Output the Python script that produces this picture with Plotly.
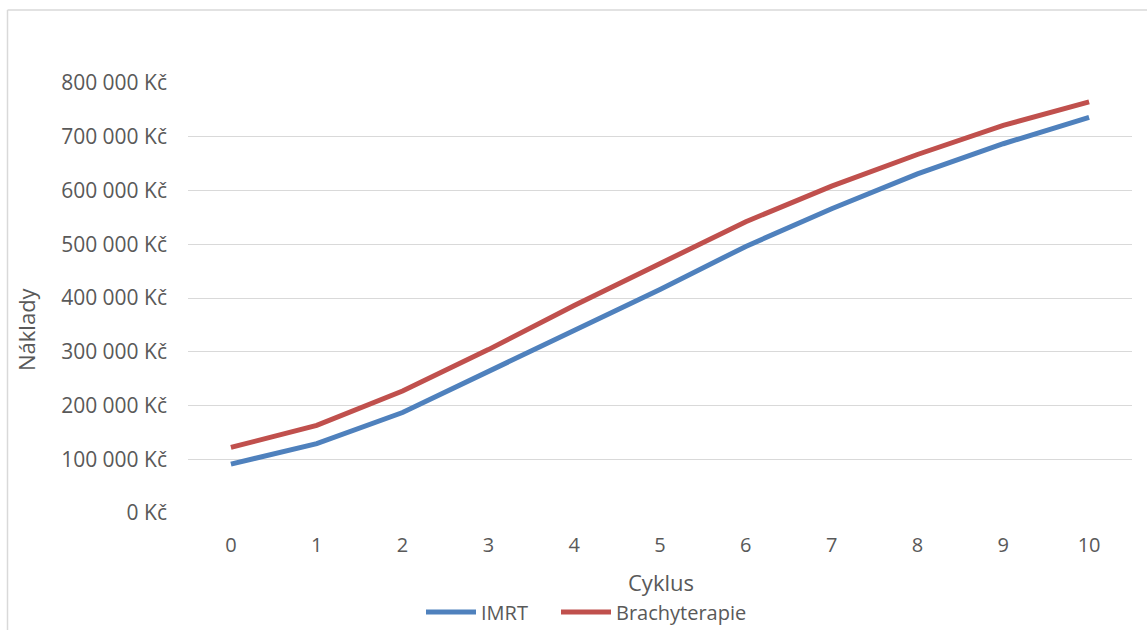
import plotly.graph_objects as go

# Cost per cycle for the two treatment options
cycles = [0, 1, 2, 3, 4, 5, 6, 7, 8, 9, 10]
imrt = [91000, 129000, 187000, 264000, 339000, 416000, 496000, 566000, 631000, 687000, 736000]
brachy = [122000, 163000, 227000, 304000, 386000, 464000, 542000, 608000, 667000, 721000, 765000]

y_ticks = [0, 100000, 200000, 300000, 400000, 500000, 600000, 700000, 800000]
y_tick_labels = ["0 Kč", "100 000 Kč", "200 000 Kč", "300 000 Kč", "400 000 Kč",
                 "500 000 Kč", "600 000 Kč", "700 000 Kč", "800 000 Kč"]

W, H = 1147, 630
L, R, T, B = 188, 15, 83, 117
FONT = "Open Sans"
TXT = "#595959"

fig = go.Figure()
fig.add_trace(go.Scatter(x=cycles, y=imrt, mode="lines", name="IMRT",
                         line=dict(color="#4F81BD", width=5), legend="legend"))
fig.add_trace(go.Scatter(x=cycles, y=brachy, mode="lines", name="Brachyterapie",
                         line=dict(color="#C0504D", width=5), legend="legend2"))

pw = W - L - R
ph = H - T - B


def px_x(x):
    return (x - L) / pw


def px_y(y):
    return (H - B - y) / ph


legend_common = dict(orientation="h", xanchor="left", y=px_y(612), yanchor="middle",
                     font=dict(size=20, color=TXT), itemwidth=50,
                     bgcolor="rgba(0,0,0,0)")

fig.update_layout(
    width=W, height=H,
    margin=dict(l=L, r=R, t=T, b=B, autoexpand=False),
    paper_bgcolor="white", plot_bgcolor="white",
    font=dict(family=FONT, color=TXT, size=20),
    showlegend=True,
    legend=dict(x=px_x(421), **legend_common),
    legend2=dict(x=px_x(556), **legend_common),
    xaxis=dict(
        type="linear", range=[-0.5, 10.5],
        tickvals=cycles, ticktext=[str(c) for c in cycles],
        showgrid=False, zeroline=False, showline=False,
        ticks="", ticklabelstandoff=18,
        tickfont=dict(size=20, color=TXT),
    ),
    yaxis=dict(
        range=[0, 800000],
        tickvals=y_ticks, ticktext=y_tick_labels,
        showgrid=True, gridcolor="#D9D9D9", gridwidth=1.3,
        zeroline=False, showline=False, ticks="",
        ticklabelstandoff=20,
        tickfont=dict(size=21, color=TXT),
    ),
    annotations=[
        dict(text="Cyklus", xref="paper", yref="paper",
             x=px_x(661), y=px_y(582), xanchor="center", yanchor="middle",
             showarrow=False, font=dict(size=22, color=TXT)),
        dict(text="Náklady", xref="paper", yref="paper", textangle=-90,
             x=px_x(26), y=px_y(329), xanchor="center", yanchor="middle",
             showarrow=False, font=dict(size=22, color=TXT)),
    ],
    shapes=[
        # outer chart frame (left and top edges visible)
        dict(type="line", xref="paper", yref="paper",
             x0=px_x(7.5), x1=px_x(W + 5), y0=px_y(10), y1=px_y(10),
             line=dict(color="#D9D9D9", width=1.5)),
        dict(type="line", xref="paper", yref="paper",
             x0=px_x(7.5), x1=px_x(7.5), y0=px_y(10), y1=px_y(H + 5),
             line=dict(color="#D9D9D9", width=1.5)),
    ],
)

fig.write_html("out.html")
